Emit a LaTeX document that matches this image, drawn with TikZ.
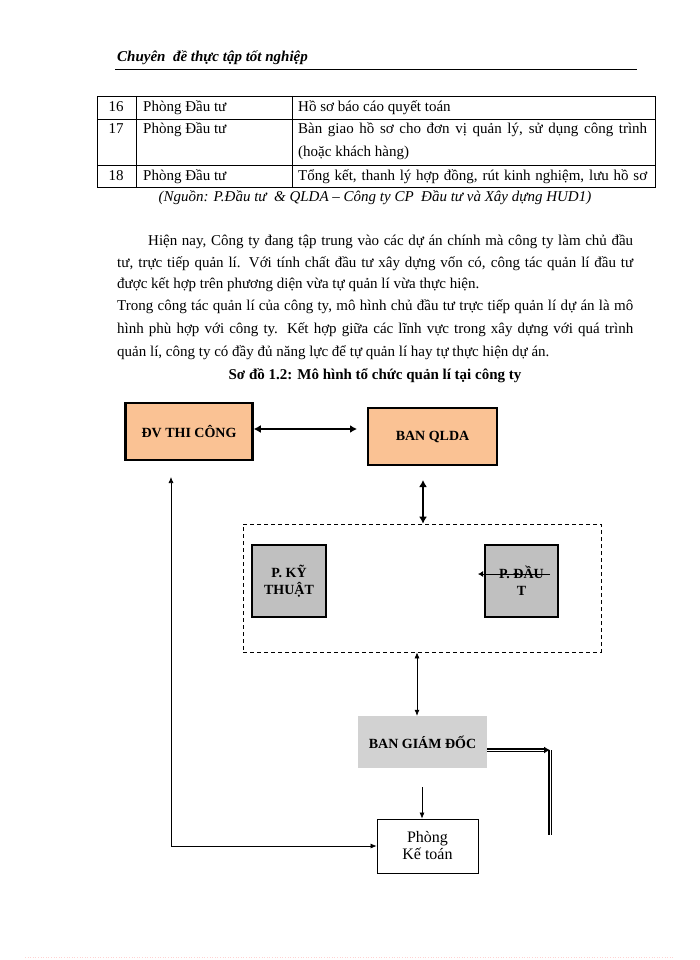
\documentclass[tikz,border=0pt]{standalone}
\usepackage{fontspec}
\setmainfont{Liberation Serif}
\usetikzlibrary{arrows.meta,calc}
\definecolor{peach}{RGB}{250,194,148}
\definecolor{boxgray}{RGB}{192,192,192}
\definecolor{lightgray2}{RGB}{210,210,210}
\begin{document}
\begin{tikzpicture}[x=1pt,y=-1pt,
  txt/.style={inner sep=0pt, anchor=base west, font=\fontsize{15}{17}\selectfont},
  tabtxt/.style={txt},
  thickbox/.style={draw, line width=2.5pt, inner sep=0pt, align=center, font=\bfseries\fontsize{14}{17}\selectfont},
  orangebox/.style={thickbox, fill=peach},
  graybox/.style={thickbox, fill=boxgray},
  bigarrow/.style={line width=1.6pt, {Latex[length=7pt,width=8pt]}-{Latex[length=7pt,width=8pt]}},
  thinarrow/.style={line width=0.7pt, {Latex[length=6pt,width=5pt]}-{Latex[length=6pt,width=5pt]}},
  onearrow/.style={line width=0.7pt, -{Latex[length=6pt,width=5pt]}},
  dbl/.style={double, double distance=1pt, line width=1.3pt}
]
\useasboundingbox (0,0) rectangle (700,960);
\fill[white] (0,0) rectangle (700,960);

% header
\node[txt, font=\bfseries\itshape\fontsize{15}{17}\selectfont] (hdr) at (117,62) {Chuyên\ \ đề thực tập tốt nghiệp};
\draw[line width=0.8pt] (115,69) -- (637,69);

% table
\draw[line width=0.8pt] (97,96) rectangle (655,187);
\draw[line width=0.8pt] (97,119) -- (655,119) (97,165) -- (655,165);
\draw[line width=0.8pt] (136,96) -- (136,187) (292,96) -- (292,187);
\node[tabtxt, anchor=base] (n16) at (116,112) {16};
\node[tabtxt, anchor=base] (n17) at (116,134) {17};
\node[tabtxt, anchor=base] (n18) at (116,180) {18};
\node[tabtxt] (p16) at (143,112) {Phòng Đầu tư};
\node[tabtxt] (p17) at (143,134) {Phòng Đầu tư};
\node[tabtxt] (p18) at (143,180) {Phòng Đầu tư};
\node[tabtxt] (d16) at (298,112) {Hồ sơ báo cáo quyết toán};
\node[tabtxt] (d17) at (298,134) {\makebox[349pt][s]{Bàn giao hồ sơ cho đơn vị quản lý, sử dụng công trình}};
\node[tabtxt] (d17b) at (298,157) {(hoặc khách hàng)};
\node[tabtxt] (d18) at (298,180) {\makebox[349pt][s]{Tổng kết, thanh lý hợp đồng, rút kinh nghiệm, lưu hồ sơ}};
\node[txt, anchor=base, font=\itshape\fontsize{15}{17}\selectfont] (src) at (375,201) {(Nguồn: P.Đầu tư\ \ \& QLDA – Công ty CP\ \ Đầu tư và Xây dựng HUD1)};

% paragraph
\node[txt] (l1) at (148,245) {\makebox[485pt][s]{Hiện nay, Công ty đang tập trung vào các dự án chính mà công ty làm chủ đầu}};
\node[txt] (l2) at (117,267) {\makebox[516pt][s]{tư, trực tiếp quản lí. Với tính chất đầu tư xây dựng vốn có, công tác quản lí đầu tư}};
\node[txt] (l3) at (117,288) {được kết hợp trên phương diện vừa tự quản lí vừa thực hiện.};
\node[txt] (l4) at (117,310) {\makebox[516pt][s]{Trong công tác quản lí của công ty, mô hình chủ đầu tư trực tiếp quản lí dự án là mô}};
\node[txt] (l5) at (117,333) {\makebox[516pt][s]{hình phù hợp với công ty. Kết hợp giữa các lĩnh vực trong xây dựng với quá trình}};
\node[txt] (l6) at (117,356) {quản lí, công ty có đầy đủ năng lực để tự quản lí hay tự thực hiện dự án.};
\node[txt, anchor=base, font=\bfseries\fontsize{15}{17}\selectfont] (cap) at (375,379) {Sơ đồ 1.2: Mô hình tổ chức quản lí tại công ty};

% diagram nodes
\node[orangebox, minimum width=127pt, minimum height=57pt] (dv) at (189,431.5) {ĐV THI CÔNG};
\node[orangebox, minimum width=129pt, minimum height=57pt] (qlda) at (432.5,436.5) {BAN QLDA};
\node[draw, dashed, dash pattern=on 4pt off 3pt, line width=0.7pt, minimum width=358pt, minimum height=128pt, inner sep=0pt] (grp) at (422,588) {};
\node[graybox, minimum width=74pt, minimum height=72pt] (kyt) at (289,581) {P. KỸ\\THUẬT};
\node[graybox, minimum width=73pt, minimum height=72pt] (dt) at (521.5,581) {P. ĐẦU\\T};
\node[fill=lightgray2, minimum width=129pt, minimum height=52pt, inner sep=0pt, font=\bfseries\fontsize{14}{17}\selectfont] (bgd) at (422.5,742) {BAN GIÁM ĐỐC};
\node[draw, line width=0.8pt, minimum width=101pt, minimum height=54pt, inner sep=0pt, align=center, font=\fontsize{16}{17}\selectfont] (kt) at (427.5,846) {Phòng\\Kế toán};

% connectors
\coordinate (c1) at (357,429);
\draw[bigarrow] (dv.east |- c1) -- (c1);
\coordinate (a1) at (423,480);
\draw[bigarrow] (a1) -- (a1 |- grp.north);
\coordinate (a2) at (417,700);
\draw[thinarrow] (a2 |- grp.south) -- (a2 |- bgd.north);
\coordinate (a3) at (422,787);
\draw[onearrow] (a3) -- (a3 |- kt.north);
\coordinate (a4) at (171,477);
\draw[thinarrow] (a4) |- (kt.west);
\coordinate (a5) at (550,750);
\coordinate (a6) at (550,835);
\draw[dbl, -{Latex[length=6pt,width=7pt]}] (bgd.east |- a5) -- (a5);
\draw[dbl] (a5) -- (a6);
\coordinate (s1) at (550,574);
\coordinate (s2) at (478,574);
\draw[line width=1pt, -{Latex[length=5pt,width=6pt]}] (s1) -- (s2);

% page bottom rule
\draw[pink!70, dotted, line width=0.6pt] (25,957) -- (674,957);
\end{tikzpicture}
\end{document}
